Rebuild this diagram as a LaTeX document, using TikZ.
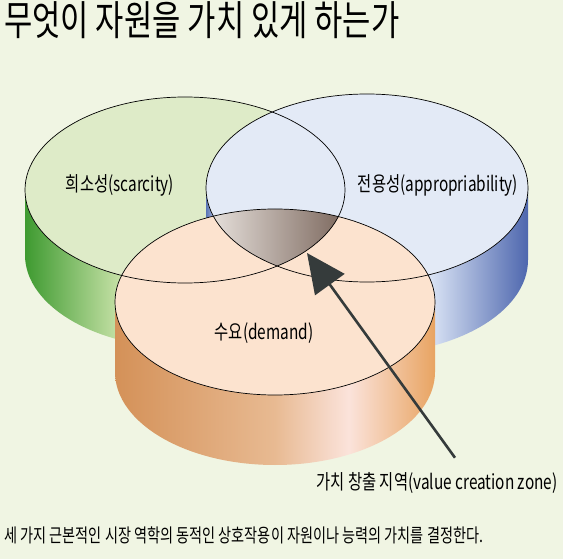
\documentclass[tikz,border=0pt]{standalone}
\usepackage{fontspec}
\newfontfamily\kr[FakeStretch=0.75]{Noto Sans CJK KR}
\usetikzlibrary{arrows.meta}
\definecolor{bgc}{HTML}{F0F5E3}
\definecolor{gTop}{HTML}{DEEBC8}
\definecolor{bTop}{HTML}{E3EAF6}
\definecolor{oTop}{HTML}{FCE3CF}
\definecolor{gD}{HTML}{3E9A30}
\definecolor{gL}{HTML}{C8E2A8}
\definecolor{bD}{HTML}{4E67AE}
\definecolor{bM}{HTML}{5A74B6}
\definecolor{bL}{HTML}{D8E2F4}
\definecolor{oA}{HTML}{D49158}
\definecolor{oB}{HTML}{E8BA92}
\definecolor{oC}{HTML}{FBE3DB}
\definecolor{oD}{HTML}{E8A462}
\definecolor{triL}{HTML}{E5DFDA}
\definecolor{triR}{HTML}{7E6A60}
\definecolor{arr}{HTML}{353B3B}
\pgfdeclarehorizontalshading{greenside}{100bp}{color(0bp)=(gD); color(25bp)=(gD); color(40bp)=(gL); color(100bp)=(gL)}
\pgfdeclarehorizontalshading{blueside}{100bp}{color(0bp)=(bM); color(25bp)=(bM); color(27bp)=(bL); color(60bp)=(bL); color(75bp)=(bD); color(100bp)=(bD)}
\pgfdeclarehorizontalshading{orangeside}{100bp}{color(0bp)=(oA); color(25bp)=(oA); color(50bp)=(oB); color(61.5bp)=(oC); color(75bp)=(oD); color(100bp)=(oD)}
\tikzset{
  rim/.style={draw=black,line width=0.7pt},
  lbl/.style={inner sep=0pt,anchor=base,font=\kr\fontsize{20.5}{23}\selectfont},
  pointer/.style={draw=arr,line width=2.6pt,-{Triangle[length=39pt,width=36pt]}}
}
\begin{document}
\begin{tikzpicture}[x=1pt,y=1pt]
\fill[bgc] (0,0) rectangle (563,-559);
\useasboundingbox (0,0) rectangle (563,-559);
% green cylinder
\shade[shading=greenside] (25,-190) -- (25,-255) arc[start angle=180,end angle=360,x radius=160pt,y radius=93pt] -- (345,-190) arc[start angle=0,end angle=-180,x radius=160pt,y radius=93pt] -- cycle;
\fill[gTop] (185,-190) ellipse[x radius=160pt,y radius=93pt];
% blue cylinder
\shade[shading=blueside] (206,-188) -- (206,-260) arc[start angle=180,end angle=360,x radius=161pt,y radius=94pt] -- (528,-188) arc[start angle=0,end angle=-180,x radius=161pt,y radius=94pt] -- cycle;
\fill[bTop] (367,-188) ellipse[x radius=161pt,y radius=94pt];
% orange cylinder
\shade[shading=orangeside] (115,-302) -- (115,-372) arc[start angle=180,end angle=360,x radius=160pt,y radius=93pt] -- (435,-302) arc[start angle=0,end angle=-180,x radius=160pt,y radius=93pt] -- cycle;
\fill[oTop] (275,-302) ellipse[x radius=160pt,y radius=93pt];
% value creation zone
\begin{scope}
\clip (185,-190) ellipse[x radius=160pt,y radius=93pt];
\clip (367,-188) ellipse[x radius=161pt,y radius=94pt];
\clip (275,-302) ellipse[x radius=160pt,y radius=93pt];
\shade[left color=triL,right color=triR] (212,-200) rectangle (342,-272);
\end{scope}
% outlines
\draw[rim] (185,-190) ellipse[x radius=160pt,y radius=93pt];
\draw[rim] (367,-188) ellipse[x radius=161pt,y radius=94pt];
\draw[rim] (275,-302) ellipse[x radius=160pt,y radius=93pt];
% texts
\node[inner sep=0pt,anchor=base west,font=\kr\fontsize{41}{45}\selectfont] (title) at (4,-36) {무엇이 자원을 가치 있게 하는가};
\node[lbl] (scar) at (120,-192) {희소성(scarcity)};
\node[lbl] (appr) at (438,-192) {전용성(appropriability)};
\node[lbl] (dem) at (264,-339) {수요(demand)};
\node[lbl] (val) at (437,-489) {가치 창출 지역(value creation zone)};
\node[inner sep=0pt,anchor=base west,font=\kr\fontsize{18.9}{21}\selectfont] (cap) at (4,-542) {세 가지 근본적인 시장 역학의 동적인 상호작용이 자원이나 능력의 가치를 결정한다.};
% arrow
\coordinate (tip) at (307,-253);
\draw[pointer] ([shift={(18pt,14pt)}]val.north) -- (tip);
\end{tikzpicture}
\end{document}
